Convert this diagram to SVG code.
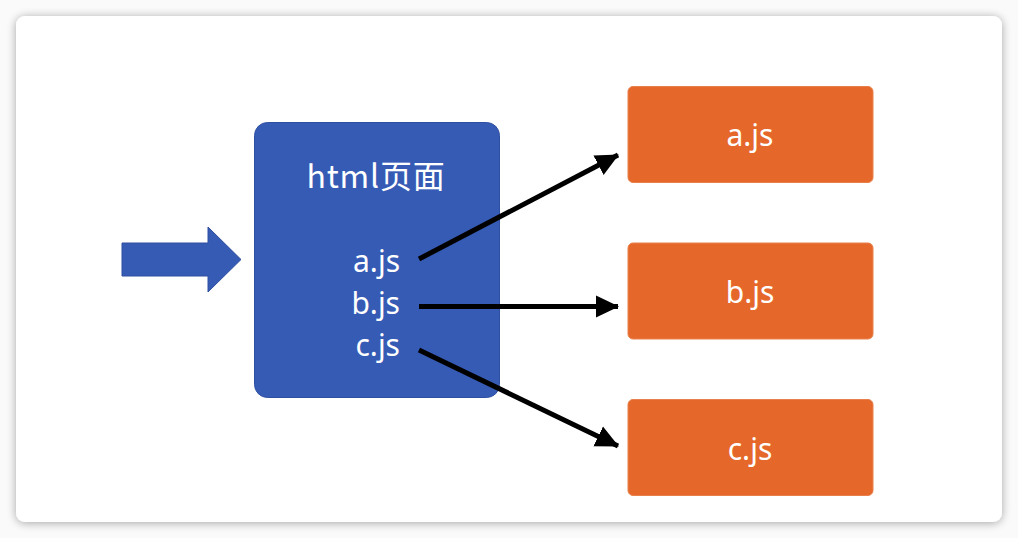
<svg xmlns="http://www.w3.org/2000/svg" width="1018" height="538" viewBox="0 0 1018 538">
<defs>
<filter id="sh" x="-5%" y="-5%" width="110%" height="110%">
<feGaussianBlur in="SourceAlpha" stdDeviation="5"/>
<feOffset dx="0" dy="1"/>
<feComponentTransfer><feFuncA type="linear" slope="0.35"/></feComponentTransfer>
<feMerge><feMergeNode/><feMergeNode in="SourceGraphic"/></feMerge>
</filter>
<marker id="ah" markerUnits="userSpaceOnUse" markerWidth="24" markerHeight="24" viewBox="0 0 24 24" refX="22" refY="12" orient="auto">
<path d="M0,1 L23,12 L0,23 Z" fill="#000"/>
</marker>
<style>
.lbl{font-family:"Noto Sans","Noto Sans CJK SC",sans-serif;font-size:30px;fill:#fff}
.cjk{font-family:"Noto Sans CJK SC","Noto Sans",sans-serif;font-size:32px;letter-spacing:0.8px;fill:#fff}
.orange{fill:#E5682A;stroke:#E9804B;stroke-width:1}
.conn{stroke:#000;stroke-width:5;fill:none;marker-end:url(#ah)}
</style>
</defs>
<rect x="0" y="0" width="1018" height="538" fill="#fafafa"/>
<rect x="16" y="16" width="986" height="506" rx="9" fill="#fff" filter="url(#sh)"/>
<g id="input-arrow">
<path d="M122,243 L208,243 L208,227 L241,259.5 L208,292 L208,276 L122,276 Z" fill="#365BB5" stroke="#2E4E9E" stroke-width="1"/>
</g>
<g id="html-page">
<rect x="254.5" y="122.5" width="245" height="275" rx="13" fill="#365BB5" stroke="#2F4FA0" stroke-width="1"/>
<text class="cjk" x="376" y="188" text-anchor="middle">html页面</text>
<text class="lbl" x="400" y="272" text-anchor="end">a.js</text>
<text class="lbl" x="400" y="314" text-anchor="end">b.js</text>
<text class="lbl" x="400" y="356" text-anchor="end">c.js</text>
</g>
<g id="connectors">
<line class="conn" x1="419" y1="259" x2="618" y2="155"/>
<line class="conn" x1="419" y1="306.5" x2="618" y2="306.5"/>
<line class="conn" x1="419" y1="350" x2="618" y2="446"/>
</g>
<g id="a-js">
<rect class="orange" x="628" y="86.5" width="245" height="96" rx="5"/>
<text class="lbl" x="750" y="146" text-anchor="middle">a.js</text>
</g>
<g id="b-js">
<rect class="orange" x="628" y="243" width="245" height="96" rx="5"/>
<text class="lbl" x="750" y="303" text-anchor="middle">b.js</text>
</g>
<g id="c-js">
<rect class="orange" x="628" y="399.5" width="245" height="96" rx="5"/>
<text class="lbl" x="750" y="460" text-anchor="middle">c.js</text>
</g>
</svg>
